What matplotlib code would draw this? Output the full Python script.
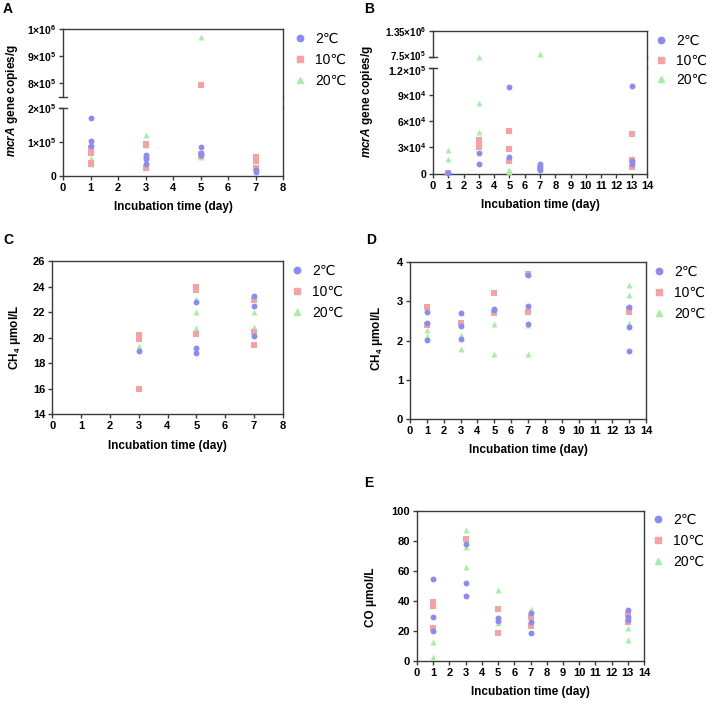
import matplotlib
matplotlib.use("Agg")
import matplotlib.pyplot as plt
from matplotlib.lines import Line2D
from matplotlib.transforms import ScaledTranslation

# ---- data ----
# panel A: mcrA copies/g, days 1-7
a_days_2 = [1, 1, 1, 3, 3, 3, 3, 5, 5, 5, 7, 7]
a_vals_2 = [1.69e5, 1.03e5, 0.87e5, 6.1e4, 5.5e4, 4.8e4, 3.3e4, 8.5e4, 6.8e4, 6.1e4, 1.7e4, 1.2e4]
a_days_10 = [1, 1, 1, 1, 3, 3, 3, 5, 5, 5, 7, 7, 7]
a_vals_10 = [8.0e4, 6.8e4, 3.8e4, 3.5e4, 9.3e4, 9.0e4, 2.4e4, 7.95e5, 6.4e4, 5.8e4, 5.4e4, 4.4e4, 2.4e4]
a_days_20 = [1, 1, 3, 3, 5, 5, 7]
a_vals_20 = [5.3e4, 3.3e4, 1.2e5, 9.0e4, 9.72e5, 5.6e4, 2.0e4]

# panel B: mcrA copies/g, days 1-13
b_days_2 = [1, 1, 3, 3, 5, 5, 7, 7, 7, 13, 13, 13]
b_vals_2 = [1.0e3, 5e2, 2.3e4, 1.07e4, 9.9e4, 1.87e4, 1.07e4, 8e3, 4.2e3, 1.0e5, 1.45e4, 1.1e4]
b_days_10 = [1, 3, 3, 3, 5, 5, 5, 7, 13, 13, 13]
b_vals_10 = [1.0e3, 3.8e4, 3.4e4, 3.0e4, 4.9e4, 2.8e4, 1.45e4, 6e3, 4.5e4, 1.56e4, 8e3]
b_days_20 = [1, 1, 3, 3, 3, 5, 5, 7, 13]
b_vals_20 = [2.7e4, 1.64e4, 7.6e5, 8.05e4, 4.8e4, 4.2e3, 1.6e3, 8.1e5, 1.8e4]

# panel C: CH4 umol/L, days 3-7
c_days_2 = [3, 5, 5, 5, 7, 7, 7]
c_vals_2 = [18.96, 22.77, 19.22, 18.78, 23.29, 22.48, 20.16]
c_days_10 = [3, 3, 3, 5, 5, 5, 7, 7, 7]
c_vals_10 = [20.2, 19.87, 16.0, 23.99, 23.73, 20.26, 22.95, 20.42, 19.45]
c_days_20 = [3, 5, 5, 5, 7, 7]
c_vals_20 = [19.35, 23.0, 22.03, 20.73, 22.0, 20.81]

# panel D: CH4 umol/L, days 1-13
d_days_2 = [1, 1, 1, 3, 3, 3, 5, 5, 7, 7, 7, 13, 13, 13]
d_vals_2 = [2.74, 2.46, 2.02, 2.71, 2.37, 2.03, 2.80, 2.77, 3.67, 2.88, 2.43, 2.86, 2.36, 1.74]
d_days_10 = [1, 1, 3, 5, 5, 7, 7, 13, 13]
d_vals_10 = [2.85, 2.40, 2.46, 3.22, 2.71, 3.69, 2.72, 2.72, 2.80]
d_days_20 = [1, 1, 3, 3, 5, 5, 7, 7, 13, 13, 13]
d_vals_20 = [2.27, 2.12, 2.14, 1.78, 2.42, 1.65, 2.40, 1.67, 3.42, 3.17, 2.46]

# panel E: CO umol/L, days 1-13
e_days_2 = [1, 1, 1, 3, 3, 3, 5, 5, 7, 7, 7, 13, 13, 13]
e_vals_2 = [54.4, 29.6, 20.2, 77.8, 51.8, 43.3, 28.4, 26.9, 32.2, 26.2, 18.9, 34.0, 29.6, 27.3]
e_days_10 = [1, 1, 1, 3, 5, 5, 7, 7, 13, 13]
e_vals_10 = [39.6, 36.7, 21.8, 81.3, 34.4, 18.9, 29.6, 23.3, 31.3, 26.2]
e_days_20 = [1, 1, 3, 3, 3, 5, 5, 7, 13, 13]
e_vals_20 = [12.9, 2.4, 87.3, 75.8, 62.9, 47.3, 25.1, 34.7, 21.8, 14.0]

labels = ["2\u2103", "10\u2103", "20\u2103"]
colors = ["#8b8bf6", "#f6a2a2", "#a4efa4"]
markers = ["o", "s", "^"]
xlabel = "Incubation time (day)"

plt.rcParams['font.family'] = ['Liberation Sans', 'DejaVu Sans']
plt.rcParams['font.weight'] = 'bold'
plt.rcParams['mathtext.fontset'] = 'custom'
plt.rcParams['mathtext.rm'] = 'Liberation Sans:bold'
plt.rcParams['mathtext.it'] = 'Liberation Sans:italic:bold'
plt.rcParams['mathtext.bf'] = 'Liberation Sans:bold'

W, H = 708, 704
fig = plt.figure(figsize=(W / 100, H / 100), dpi=100)
SPINE = "#3a3a3a"


def box(x0, y0, x1, y1):
    return [x0 / W, 1 - y1 / H, (x1 - x0) / W, (y1 - y0) / H]


def style(ax, xmax=None, ysize=8):
    for s in ax.spines.values():
        s.set_color(SPINE)
        s.set_linewidth(1.0)
    ax.tick_params(direction="out", length=3, width=1.0, color=SPINE, pad=2)
    ax.tick_params(axis="x", labelsize=8)
    ax.tick_params(axis="y", labelsize=ysize)
    if xmax is not None:
        ax.set_xlim(0, xmax)
        ax.set_xticks(range(0, xmax + 1))
        ax.set_xlabel(xlabel, fontsize=8.5, fontweight="bold", labelpad=6)


def draw(ax, series, lo=None, hi=None):
    # draw order: 20, 10, 2 (blue on top)
    for i in [2, 1, 0]:
        days, vals = series[i]
        pts = [(d, v) for d, v in zip(days, vals)
               if (lo is None or v >= lo) and (hi is None or v <= hi)]
        if not pts:
            continue
        ax.scatter([p[0] for p in pts], [p[1] for p in pts], s=18,
                   marker=markers[i], c=colors[i], linewidths=0,
                   clip_on=False, zorder=3)


def legend(ax, mx, my, spacing=0.5):
    handles = [Line2D([], [], ls="none", marker=markers[i], color=colors[i],
                      markersize=4.6) for i in range(3)]
    ax.legend(handles, labels, loc="upper left",
              bbox_to_anchor=((mx - 7) / W, 1 - (my - 7) / H),
              bbox_transform=fig.transFigure, frameon=False,
              prop={"size": 10, "weight": "normal"}, handlelength=1.0,
              handletextpad=0.6, labelspacing=spacing, borderpad=0,
              borderaxespad=0)


def broken(x0, x1, gap_top, gap_bot):
    # bridge the right spine and mark the break on the left spine
    fig.add_artist(Line2D([x1 / W, x1 / W], [1 - gap_top / H, 1 - gap_bot / H],
                          color=SPINE, lw=1.0))
    for y in (gap_top, gap_bot):
        fig.add_artist(Line2D([(x0 - 4) / W, (x0 + 4) / W], [1 - y / H, 1 - y / H],
                              color=SPINE, lw=1.0))


def nudge(label, dy_px):
    label.set_transform(label.get_transform() +
                        ScaledTranslation(0, dy_px / 100, fig.dpi_scale_trans))


def sci(m, e):
    return r"$%s×10^{%d}$" % (m, e)


# ---- panel A ----
a_series = [(a_days_2, a_vals_2), (a_days_10, a_vals_10), (a_days_20, a_vals_20)]
axA_up = fig.add_axes(box(63, 29, 283, 97))
axA = fig.add_axes(box(63, 107.7, 283, 175.7))
style(axA_up, ysize=7.5)
style(axA, 8, ysize=7.5)
axA_up.set_xlim(0, 8)
axA_up.set_ylim(7.5e5, 1e6)
axA_up.set_yticks([8e5, 9e5, 1e6], [sci(8, 5), sci(9, 5), sci(1, 6)])
axA_up.spines["bottom"].set_visible(False)
axA_up.tick_params(axis="x", bottom=False, labelbottom=False)
axA.set_ylim(0, 2e5)
axA.set_yticks([0, 1e5, 2e5], ["0", sci(1, 5), sci(2, 5)])
axA.spines["top"].set_visible(False)
draw(axA_up, a_series, lo=2e5)
draw(axA, a_series, hi=2e5)
broken(63, 283, 97, 107.7)
legend(axA, 300, 39)

# ---- panel B ----
b_series = [(b_days_2, b_vals_2), (b_days_10, b_vals_10), (b_days_20, b_vals_20)]
axB_up = fig.add_axes(box(433, 30.7, 647, 57))
axB = fig.add_axes(box(433, 68.3, 647, 173.7))
style(axB_up, ysize=7)
style(axB, 14, ysize=7.5)
axB_up.set_xlim(0, 14)
axB_up.set_ylim(7.5e5, 1.35e6)
axB_up.set_yticks([7.5e5, 1.35e6], [sci("7.5", 5), sci("1.35", 6)])
axB_up.spines["bottom"].set_visible(False)
axB_up.tick_params(axis="x", bottom=False, labelbottom=False)
axB.set_ylim(0, 1.2e5)
axB.set_yticks([0, 3e4, 6e4, 9e4, 1.2e5],
               ["0", sci(3, 4), sci(6, 4), sci(9, 4), sci("1.2", 5)])
axB.spines["top"].set_visible(False)
draw(axB_up, b_series, lo=1.2e5)
draw(axB, b_series, hi=1.2e5)
broken(433, 647, 57, 68.3)
legend(axB, 661, 41, spacing=0.4)
# the two labels next to the break sit very close; pull them apart a little
nudge(axB_up.get_yticklabels()[0], 2)
nudge(axB.get_yticklabels()[-1], -2)

# ---- panel C ----
axC = fig.add_axes(box(52.3, 261, 282.7, 414.3))
style(axC, 8)
axC.set_ylim(14, 26)
axC.set_yticks(range(14, 27, 2))
draw(axC, [(c_days_2, c_vals_2), (c_days_10, c_vals_10), (c_days_20, c_vals_20)])
legend(axC, 297, 271)

# ---- panel D ----
axD = fig.add_axes(box(410, 262.3, 646, 419))
style(axD, 14)
axD.set_ylim(0, 4)
axD.set_yticks(range(0, 5))
draw(axD, [(d_days_2, d_vals_2), (d_days_10, d_vals_10), (d_days_20, d_vals_20)])
legend(axD, 659, 272)

# ---- panel E ----
axE = fig.add_axes(box(417, 511, 644, 661))
style(axE, 14)
axE.set_ylim(0, 100)
axE.set_yticks(range(0, 101, 20))
draw(axE, [(e_days_2, e_vals_2), (e_days_10, e_vals_10), (e_days_20, e_vals_20)])
legend(axE, 658, 520)

# ---- y labels and panel letters ----
ylab = dict(rotation=90, ha="center", va="center", fontsize=8.5, fontweight="bold")
fig.text(12 / W, 1 - 101 / H, r"$\it{mcrA}$ gene copies/g", **ylab)
fig.text(367 / W, 1 - 102 / H, r"$\it{mcrA}$ gene copies/g", **ylab)
fig.text(15 / W, 1 - 337 / H, r"CH$_4$ μmol/L", **ylab)
fig.text(377 / W, 1 - 338 / H, r"CH$_4$ μmol/L", **ylab)
fig.text(371 / W, 1 - 597 / H, "CO μmol/L", **ylab)

letter = dict(ha="left", va="center", fontsize=10, fontweight="bold")
fig.text(3 / W, 1 - 9 / H, "A", **letter)
fig.text(364 / W, 1 - 9 / H, "B", **letter)
fig.text(3 / W, 1 - 240 / H, "C", **letter)
fig.text(366 / W, 1 - 240 / H, "D", **letter)
fig.text(364 / W, 1 - 483 / H, "E", **letter)

fig.savefig("out.png", dpi=100)
